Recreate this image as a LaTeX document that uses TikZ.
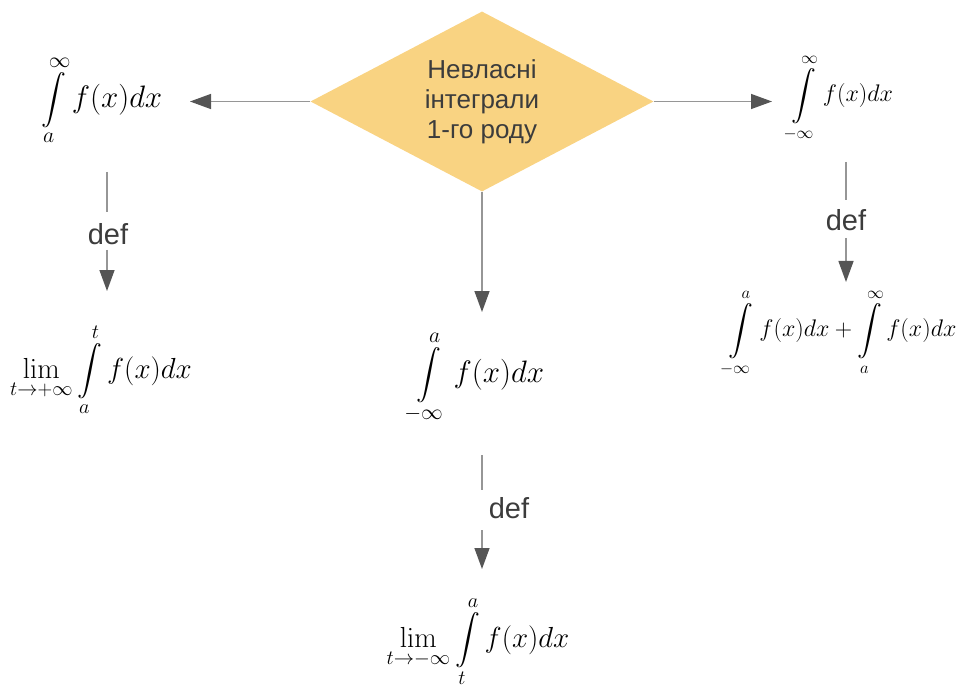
\RequirePackage{fix-cm}
\documentclass[tikz,border=0pt]{standalone}
\usepackage{amsmath}
\usepackage[no-math]{fontspec}
\newfontfamily\lsans{Liberation Sans}
\usetikzlibrary{arrows.meta,shapes.geometric}
\definecolor{dia}{RGB}{249,211,130}
\definecolor{txt}{RGB}{60,60,60}
\definecolor{ln}{RGB}{150,150,150}
\definecolor{hd}{RGB}{85,85,85}
\tikzset{
 lbl/.style={font=\lsans\fontsize{26}{30}\selectfont, text=txt, align=center},
 deflbl/.style={font=\lsans\fontsize{29}{32}\selectfont, text=txt, inner sep=0pt},
 fmlbig/.style={inner sep=0pt, font=\fontsize{31}{36}\selectfont},
 fmlmid/.style={inner sep=0pt, font=\fontsize{29}{34}\selectfont},
 fmlsmall/.style={inner sep=0pt, font=\fontsize{24}{28}\selectfont},
 conn/.style={draw=ln, line width=1.4pt},
 arr/.style={conn, -{Triangle[length=21pt,width=15pt,color=hd,fill=hd]}},
}
\begin{document}
\begin{tikzpicture}[x=1pt,y=-1pt]
\useasboundingbox (0,0) rectangle (956,695);
\node[diamond, fill=dia, minimum width=343pt, minimum height=180pt, aspect=1.9, inner sep=0pt, lbl] (main) at (482,101.5) {Невласні\\інтеграли\\1-го роду};

% left branch
\node[fmlbig] (ltop) at (102,100) {$\displaystyle\int\limits_a^{\infty} f(x)dx$};
\node[deflbl] (ldef) at (108,234) {def};
\node[fmlmid] (lbot) at (101,370) {$\displaystyle\lim_{t\to+\infty}\int\limits_a^{t} f(x)dx$};

% right branch
\node[fmlsmall] (rtop) at (841,98) {$\displaystyle\int\limits_{-\infty}^{\infty} f(x)dx$};
\node[deflbl] (rdef) at (846,220) {def};
\node[fmlsmall] (rbot) at (841,333) {$\displaystyle\int\limits_{-\infty}^{a} f(x)dx+\int\limits_a^{\infty} f(x)dx$};

% middle branch
\node[fmlbig] (mtop) at (477,377) {$\displaystyle\int\limits_{-\infty}^{a} f(x)dx$};
\node[deflbl] (mdef) at (509,508) {def};
\node[fmlmid] (mbot) at (478,642) {$\displaystyle\lim_{t\to-\infty}\int\limits_t^{a} f(x)dx$};

% connector ends
\coordinate (lt) at (190,101.5);
\coordinate (rt) at (772,101.5);
\coordinate (mt) at (482,312);
\coordinate (l1) at (107,172); \coordinate (l2) at (107,212);
\coordinate (l3) at (107,250); \coordinate (l4) at (107,291);
\coordinate (r1) at (846,162); \coordinate (r2) at (846,200);
\coordinate (r3) at (846,238); \coordinate (r4) at (846,282);
\coordinate (m1) at (482,455); \coordinate (m2) at (482,490);
\coordinate (m3) at (482,530); \coordinate (m4) at (482,569);

% connectors from the diamond
\draw[arr] (main.west) -- (lt);
\draw[arr] (main.east) -- (rt);
\draw[arr] (main.south) -- (mt);

% def connectors
\draw[conn] (l1) -- (l2);
\draw[arr] (l3) -- (l4);
\draw[conn] (r1) -- (r2);
\draw[arr] (r3) -- (r4);
\draw[conn] (m1) -- (m2);
\draw[arr] (m3) -- (m4);
\end{tikzpicture}
\end{document}
